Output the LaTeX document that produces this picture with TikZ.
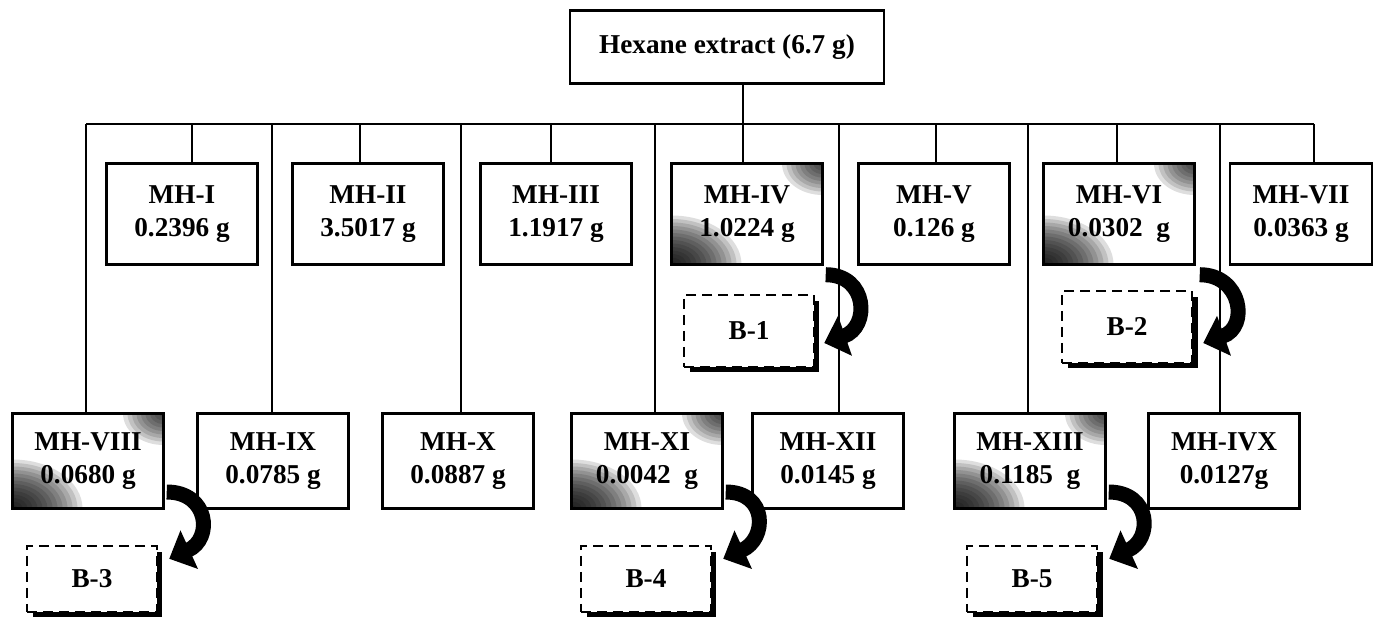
\documentclass[tikz,border=0pt]{standalone}
\usepackage{fontspec}
\setmainfont{Liberation Serif}
\usetikzlibrary{positioning,calc,shadows,arrows.meta}

\begin{document}
\begin{tikzpicture}[
  x=0.02cm, y=-0.02cm,
  frac/.style={draw, line width=1.4pt, fill=white, align=center, inner sep=2pt,
               font=\fontsize{15.5}{19}\selectfont\bfseries,
               minimum width=3.02cm, minimum height=#1},
  frac/.default=2.02cm,
  tinted/.style={path picture={
      \foreach \k in {1,...,14}
        \fill[black, opacity=0.13] (path picture bounding box.south west)
          ellipse ({\k*0.1cm} and {\k*0.07cm});
      \foreach \k in {1,...,9}
        \fill[black, opacity=0.13] (path picture bounding box.north east)
          ellipse ({\k*0.09cm} and {\k*0.07cm});}},
  pool/.style={draw, line width=1.4pt, dash pattern=on 5.7pt off 3.4pt, fill=white,
               font=\fontsize{15.5}{19}\selectfont\bfseries,
               minimum width=2.6cm, minimum height=#1,
               drop shadow={shadow xshift=0.11cm, shadow yshift=-0.11cm, fill=black, opacity=1}},
  pool/.default=1.44cm,
  link/.style={line width=1.2pt},
  curl/.style={line width=0.3cm, -{Triangle[width=0.82cm, length=0.44cm]}}
]
  \useasboundingbox (0,0) rectangle (1375,618);

  % Crude extract
  \node[frac=1.46cm, minimum width=6.28cm] (hex) at (727,47) {Hexane extract (6.7 g)};

  % Junctions on the bar
  \coordinate (j1) at (192,124);  \coordinate (j2) at (360,124);
  \coordinate (j3) at (551,124);  \coordinate (j4) at (743,124);
  \coordinate (j5) at (936,124);  \coordinate (j6) at (1117,124);
  \coordinate (j7) at (1314,124);
  \coordinate (k8) at (86,124);   \coordinate (k9) at (272,124);
  \coordinate (k10) at (461,124); \coordinate (k11) at (655,124);
  \coordinate (k12) at (839,124); \coordinate (k13) at (1028,124);
  \coordinate (k14) at (1220,124);

  % First row of fractions
  \node[frac] (mh1) at (182,214) {MH-I\\0.2396 g};
  \node[frac] (mh2) at (368,214) {MH-II\\3.5017 g};
  \node[frac] (mh3) at (556,214) {MH-III\\1.1917 g};
  \node[frac, tinted] (mh4) at (747,214) {MH-IV\\1.0224 g};
  \node[frac] (mh5) at (934,214) {MH-V\\0.126 g};
  \node[frac, tinted] (mh6) at (1119,214) {MH-VI\\0.0302\ \ g};
  \node[frac, minimum width=2.84cm] (mh7) at (1301,214) {MH-VII\\0.0363 g};

  % Second row of fractions
  \node[frac=1.9cm, tinted] (mh8) at (88,461) {MH-VIII\\0.0680 g};
  \node[frac=1.9cm] (mh9) at (273,461) {MH-IX\\0.0785 g};
  \node[frac=1.9cm] (mh10) at (458,461) {MH-X\\0.0887 g};
  \node[frac=1.9cm, tinted] (mh11) at (647,461) {MH-XI\\0.0042\ \ g};
  \node[frac=1.9cm] (mh12) at (828,461) {MH-XII\\0.0145 g};
  \node[frac=1.9cm, tinted] (mh13) at (1030,461) {MH-XIII\\0.1185\ \ g};
  \node[frac=1.9cm] (mh14) at (1224,461) {MH-IVX\\0.0127g};

  % Sub-fractions
  \node[pool] (b1) at (749,331) {B-1};
  \node[pool] (b2) at (1127,327) {B-2};
  \node[pool=1.32cm] (b3) at (92,579) {B-3};
  \node[pool=1.32cm] (b4) at (646,579) {B-4};
  \node[pool=1.32cm] (b5) at (1032,579) {B-5};

  % Tree lines
  \draw[link] (hex.south -| j4) -- (mh4.north -| j4);
  \draw[link] (k8) -- (j7);
  \draw[link] (j1) -- (j1 |- mh1.north);
  \draw[link] (j2) -- (j2 |- mh2.north);
  \draw[link] (j3) -- (j3 |- mh3.north);
  \draw[link] (j5) -- (j5 |- mh5.north);
  \draw[link] (j6) -- (j6 |- mh6.north);
  \draw[link] (j7) -- (j7 |- mh7.north);
  \draw[link] (k8) -- (k8 |- mh8.north);
  \draw[link] (k9) -- (k9 |- mh9.north);
  \draw[link] (k10) -- (k10 |- mh10.north);
  \draw[link] (k11) -- (k11 |- mh11.north);
  \draw[link] (k12) -- (k12 |- mh12.north);
  \draw[link] (k13) -- (k13 |- mh13.north);
  \draw[link] (k14) -- (k14 |- mh14.north);

  % Curved arrows to the sub-fractions
  \draw[curl] ($(mh4.south east)+(2,9)$) .. controls +(42,0) and +(46,-16) .. ($(b1.east)+(9,12)$);
  \draw[curl] ($(mh6.south east)+(4,9)$) .. controls +(42,0) and +(46,-16) .. ($(b2.east)+(10,16)$);
  \draw[curl] ($(mh8.east)+(2,31)$) .. controls +(42,0) and +(44,-20) .. ($(b3.north east)+(11,14)$);
  \draw[curl] ($(mh11.east)+(2,31)$) .. controls +(42,0) and +(44,-20) .. ($(b4.north east)+(11,14)$);
  \draw[curl] ($(mh13.east)+(2,31)$) .. controls +(42,0) and +(44,-20) .. ($(b5.north east)+(11,14)$);
\end{tikzpicture}
\end{document}
